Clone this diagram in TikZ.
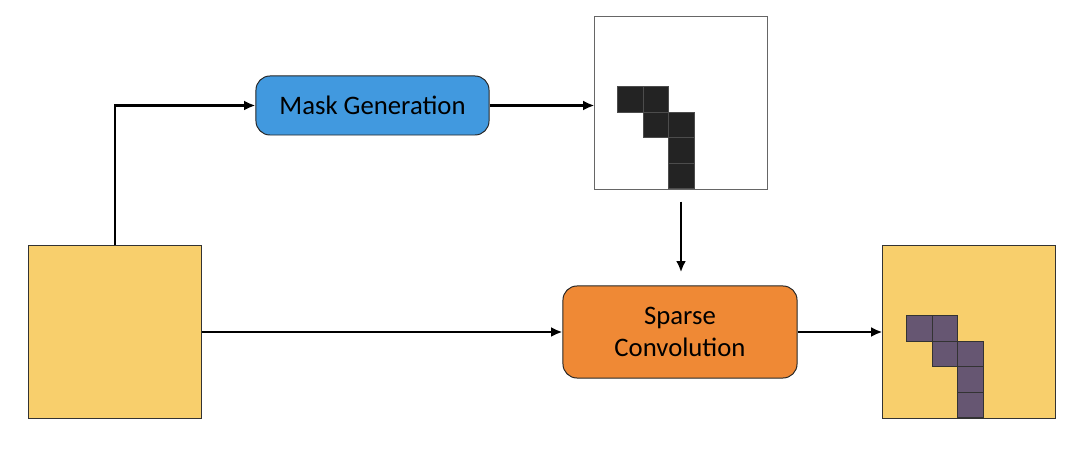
\documentclass[tikz,border=0pt]{standalone}
\usepackage{fontspec}
\setmainfont{Carlito}
\usetikzlibrary{arrows.meta}
\definecolor{featyellow}{RGB}{248,207,108}
\definecolor{maskblue}{RGB}{65,153,223}
\definecolor{convorange}{RGB}{239,137,53}
\definecolor{cellpurple}{RGB}{102,86,114}
\definecolor{celldark}{RGB}{35,35,35}
\tikzset{
  feat/.style={draw=black!80, line width=0.7pt, fill=featyellow, minimum size=4.3cm, inner sep=0pt},
  maskmap/.style={draw=black!60, line width=0.7pt, fill=white, minimum size=4.3cm, inner sep=0pt},
  opbox/.style={draw=black!85, line width=0.7pt, rounded corners=10pt, align=center, font=\fontsize{19}{23}\selectfont},
  flow/.style={line width=1.7pt, -{Latex[length=8pt,width=7pt]}}
}
\begin{document}
\begin{tikzpicture}[x=0.025cm, y=-0.025cm]
\useasboundingbox (0,0) rectangle (1080,452);
% Define blocks
\node[feat] (input) at (115,332) {};
\node[opbox, fill=maskblue, minimum width=5.825cm, minimum height=1.475cm] (maskgen) at (372.5,105.5) {Mask Generation};
\node[maskmap] (mask) at (681,103) {};
\node[opbox, fill=convorange, minimum width=5.85cm, minimum height=2.3cm] (sparse) at (680,332) {Sparse\\Convolution};
\node[feat] (output) at (969,332) {};
% Active cells
\foreach \c/\r in {0/0,1/0,1/1,2/1,2/2,2/3} {
  \draw[fill=celldark, draw=black!70, line width=0.5pt] ([shift={(23+\c*25.5,70+\r*25.5)}]mask.north west) rectangle ++(25.5,25.5);
  \draw[fill=cellpurple, draw=black!80, line width=0.5pt] ([shift={(24+\c*25.5,70+\r*25.5)}]output.north west) rectangle ++(25.5,25.5);
}
% Arrows
\coordinate (maskout) at ([yshift=-0.3cm]mask.south);
\coordinate (sparsein) at ([yshift=0.33cm]sparse.north);
\draw[flow] (input.north) |- (maskgen.west);
\draw[flow] (maskgen.east) -- (maskgen.east -| mask.west);
\draw[flow] (maskout) -- (maskout |- sparsein);
\draw[flow] (input.east) -- (sparse.west);
\draw[flow] (sparse.east) -- (output.west);
\end{tikzpicture}
\end{document}
